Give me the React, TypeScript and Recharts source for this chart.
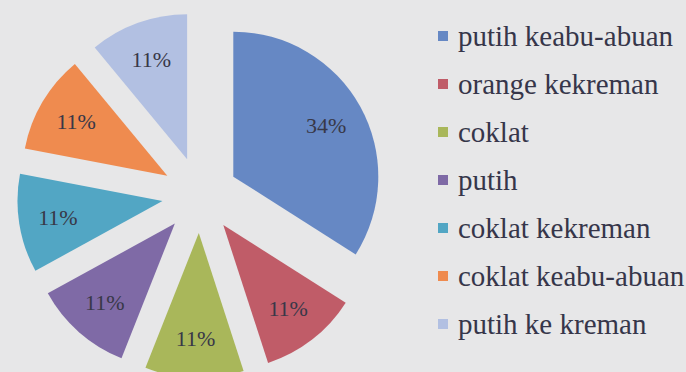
import { PieChart, Pie, Cell, Legend, Sector } from "recharts";

const categories = [
  "putih keabu-abuan",
  "orange kekreman",
  "coklat",
  "putih",
  "coklat kekreman",
  "coklat keabu-abuan",
  "putih ke kreman",
];
const shares = [34, 11, 11, 11, 11, 11, 11];
const colors = ["#6688c4", "#c05c68", "#a9b75a", "#7f6aa6", "#52a6c4", "#ef8b4f", "#b2c0e2"];

const data = categories.map((name, i) => ({ name, value: shares[i] }));

const RADIAN = Math.PI / 180;
const EXPLODE = 38;
const FONT = '"Liberation Serif", "Times New Roman", serif';

function ExplodedSlice(props: any) {
  const dx = EXPLODE * Math.cos(-props.midAngle * RADIAN);
  const dy = EXPLODE * Math.sin(-props.midAngle * RADIAN);
  return <Sector {...props} cx={props.cx + dx} cy={props.cy + dy} />;
}

function renderLabel(props: any) {
  const { cx, cy, midAngle, outerRadius, percent } = props;
  const r = EXPLODE + outerRadius * 0.73;
  const x = cx + r * Math.cos(-midAngle * RADIAN);
  const y = cy + r * Math.sin(-midAngle * RADIAN);
  return (
    <text
      x={x}
      y={y}
      fill="#383848"
      fontSize={22}
      fontFamily={FONT}
      textAnchor="middle"
      dominantBaseline="central"
    >
      {`${Math.round(percent * 100)}%`}
    </text>
  );
}

function LegendList() {
  return (
    <div style={{ fontFamily: FONT, fontSize: 29, color: "#36364a", lineHeight: 1 }}>
      {categories.map((c, i) => (
        <div key={c} style={{ display: "flex", alignItems: "center", height: 48 }}>
          <span
            style={{
              display: "inline-block",
              width: 10,
              height: 10,
              background: colors[i],
              marginRight: 10,
            }}
          />
          <span>{c}</span>
        </div>
      ))}
    </div>
  );
}

export default function App() {
  return (
    <div
      style={{
        position: "absolute",
        left: 0,
        top: 0,
        width: 686,
        height: 372,
        background: "#e7e7e8",
      }}
    >
      <PieChart width={686} height={372}>
        <Pie
          data={data}
          dataKey="value"
          nameKey="name"
          cx={195}
          cy={190}
          outerRadius={145}
          startAngle={90}
          endAngle={-270}
          stroke="none"
          shape={ExplodedSlice}
          label={renderLabel}
          labelLine={false}
          isAnimationActive={false}
        >
          {data.map((d, i) => (
            <Cell key={d.name} fill={colors[i]} />
          ))}
        </Pie>
        <Legend
          layout="vertical"
          content={<LegendList />}
          wrapperStyle={{ position: "absolute", left: 438, top: 12, width: 250 }}
        />
      </PieChart>
    </div>
  );
}
